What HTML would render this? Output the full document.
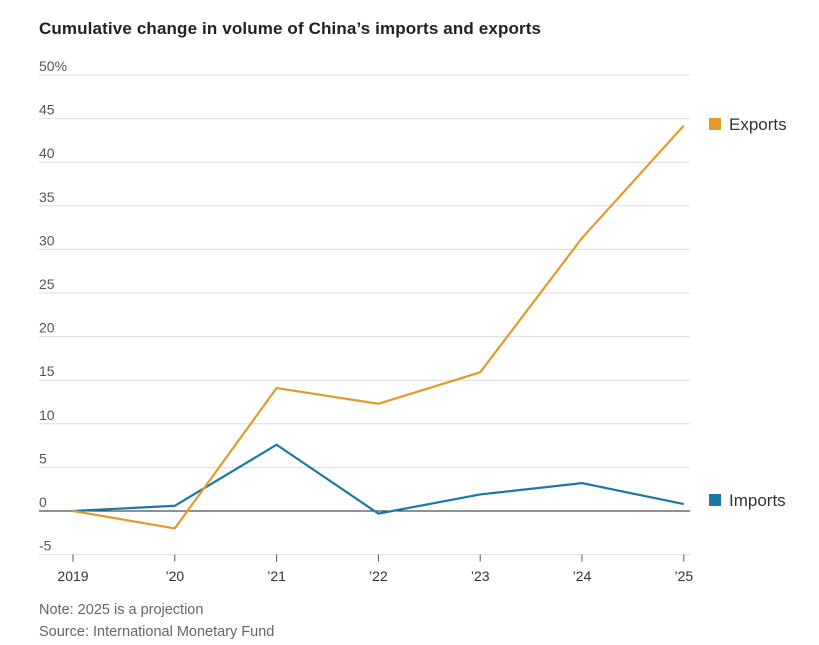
<!DOCTYPE html>
<html><head><meta charset="utf-8"><style>
body{margin:0;background:#fff;width:819px;height:640px;overflow:hidden;font-family:"Liberation Sans",sans-serif}
svg text{font-family:"Liberation Sans",sans-serif}
</style></head><body>
<svg id="chart" width="819" height="640" xmlns="http://www.w3.org/2000/svg">
<text x="39" y="34" font-size="17" font-weight="bold" fill="#222" textLength="502">Cumulative change in volume of China’s imports and exports</text>
<g id="grid"></g><g id="lines"></g>
<text x="39" y="614" font-size="14.5" fill="#666">Note: 2025 is a projection</text>
<text x="39" y="636" font-size="14.5" fill="#666">Source: International Monetary Fund</text>
<rect x="709" y="118" width="12" height="12" fill="#e39a2a"/>
<text x="729" y="130" font-size="17" fill="#333">Exports</text>
<rect x="709" y="494" width="12" height="12" fill="#1a78a8"/>
<text x="729" y="506" font-size="17" fill="#333">Imports</text>
</svg>
<script>
const categories=["2019","’20","’21","’22","’23","’24","’25"];
const exportsData=[0,-2,14.1,12.3,15.9,31.3,44.2];
const importsData=[0,0.6,7.6,-0.3,1.9,3.2,0.8];
const yTicks=[-5,0,5,10,15,20,25,30,35,40,45,50];
const NS="http://www.w3.org/2000/svg";
const x=i=>73+i*101.8;
const y=v=>511-v*8.72;
const grid=document.getElementById('grid'),lines=document.getElementById('lines');
function mk(tag,attrs,parent){const e=document.createElementNS(NS,tag);for(const k in attrs)e.setAttribute(k,attrs[k]);parent.appendChild(e);return e;}
yTicks.forEach(t=>{
 const l=mk('line',{x1:39,x2:690,y1:y(t),y2:y(t),stroke:t===0?'#222':'#ddd','stroke-width':1},grid);
 
 
 const tx=mk('text',{x:39,y:y(t)-4,'font-size':14,fill:'#555'},grid);
 tx.textContent=t===50?'50%':String(t);
 
 
});
categories.forEach((c,i)=>{
 const tk=mk('line',{x1:x(i),x2:x(i),y1:y(-5),y2:y(-5)+7,stroke:'#555','stroke-width':1},grid);
 
 
 const tx=mk('text',{x:x(i),y:581,'font-size':14,fill:'#333','text-anchor':'middle'},grid);
 tx.textContent=c;
 
 
});
function series(d,col,name){
 const p=mk('polyline',{points:d.map((v,i)=>x(i)+','+y(v)).join(' '),fill:'none',stroke:col,'stroke-width':2.2,'stroke-linejoin':'round'},lines);
 
 
}
series(importsData,'#1a78a8','imports-line');
series(exportsData,'#e39a2a','exports-line');
</script>
</body></html>
